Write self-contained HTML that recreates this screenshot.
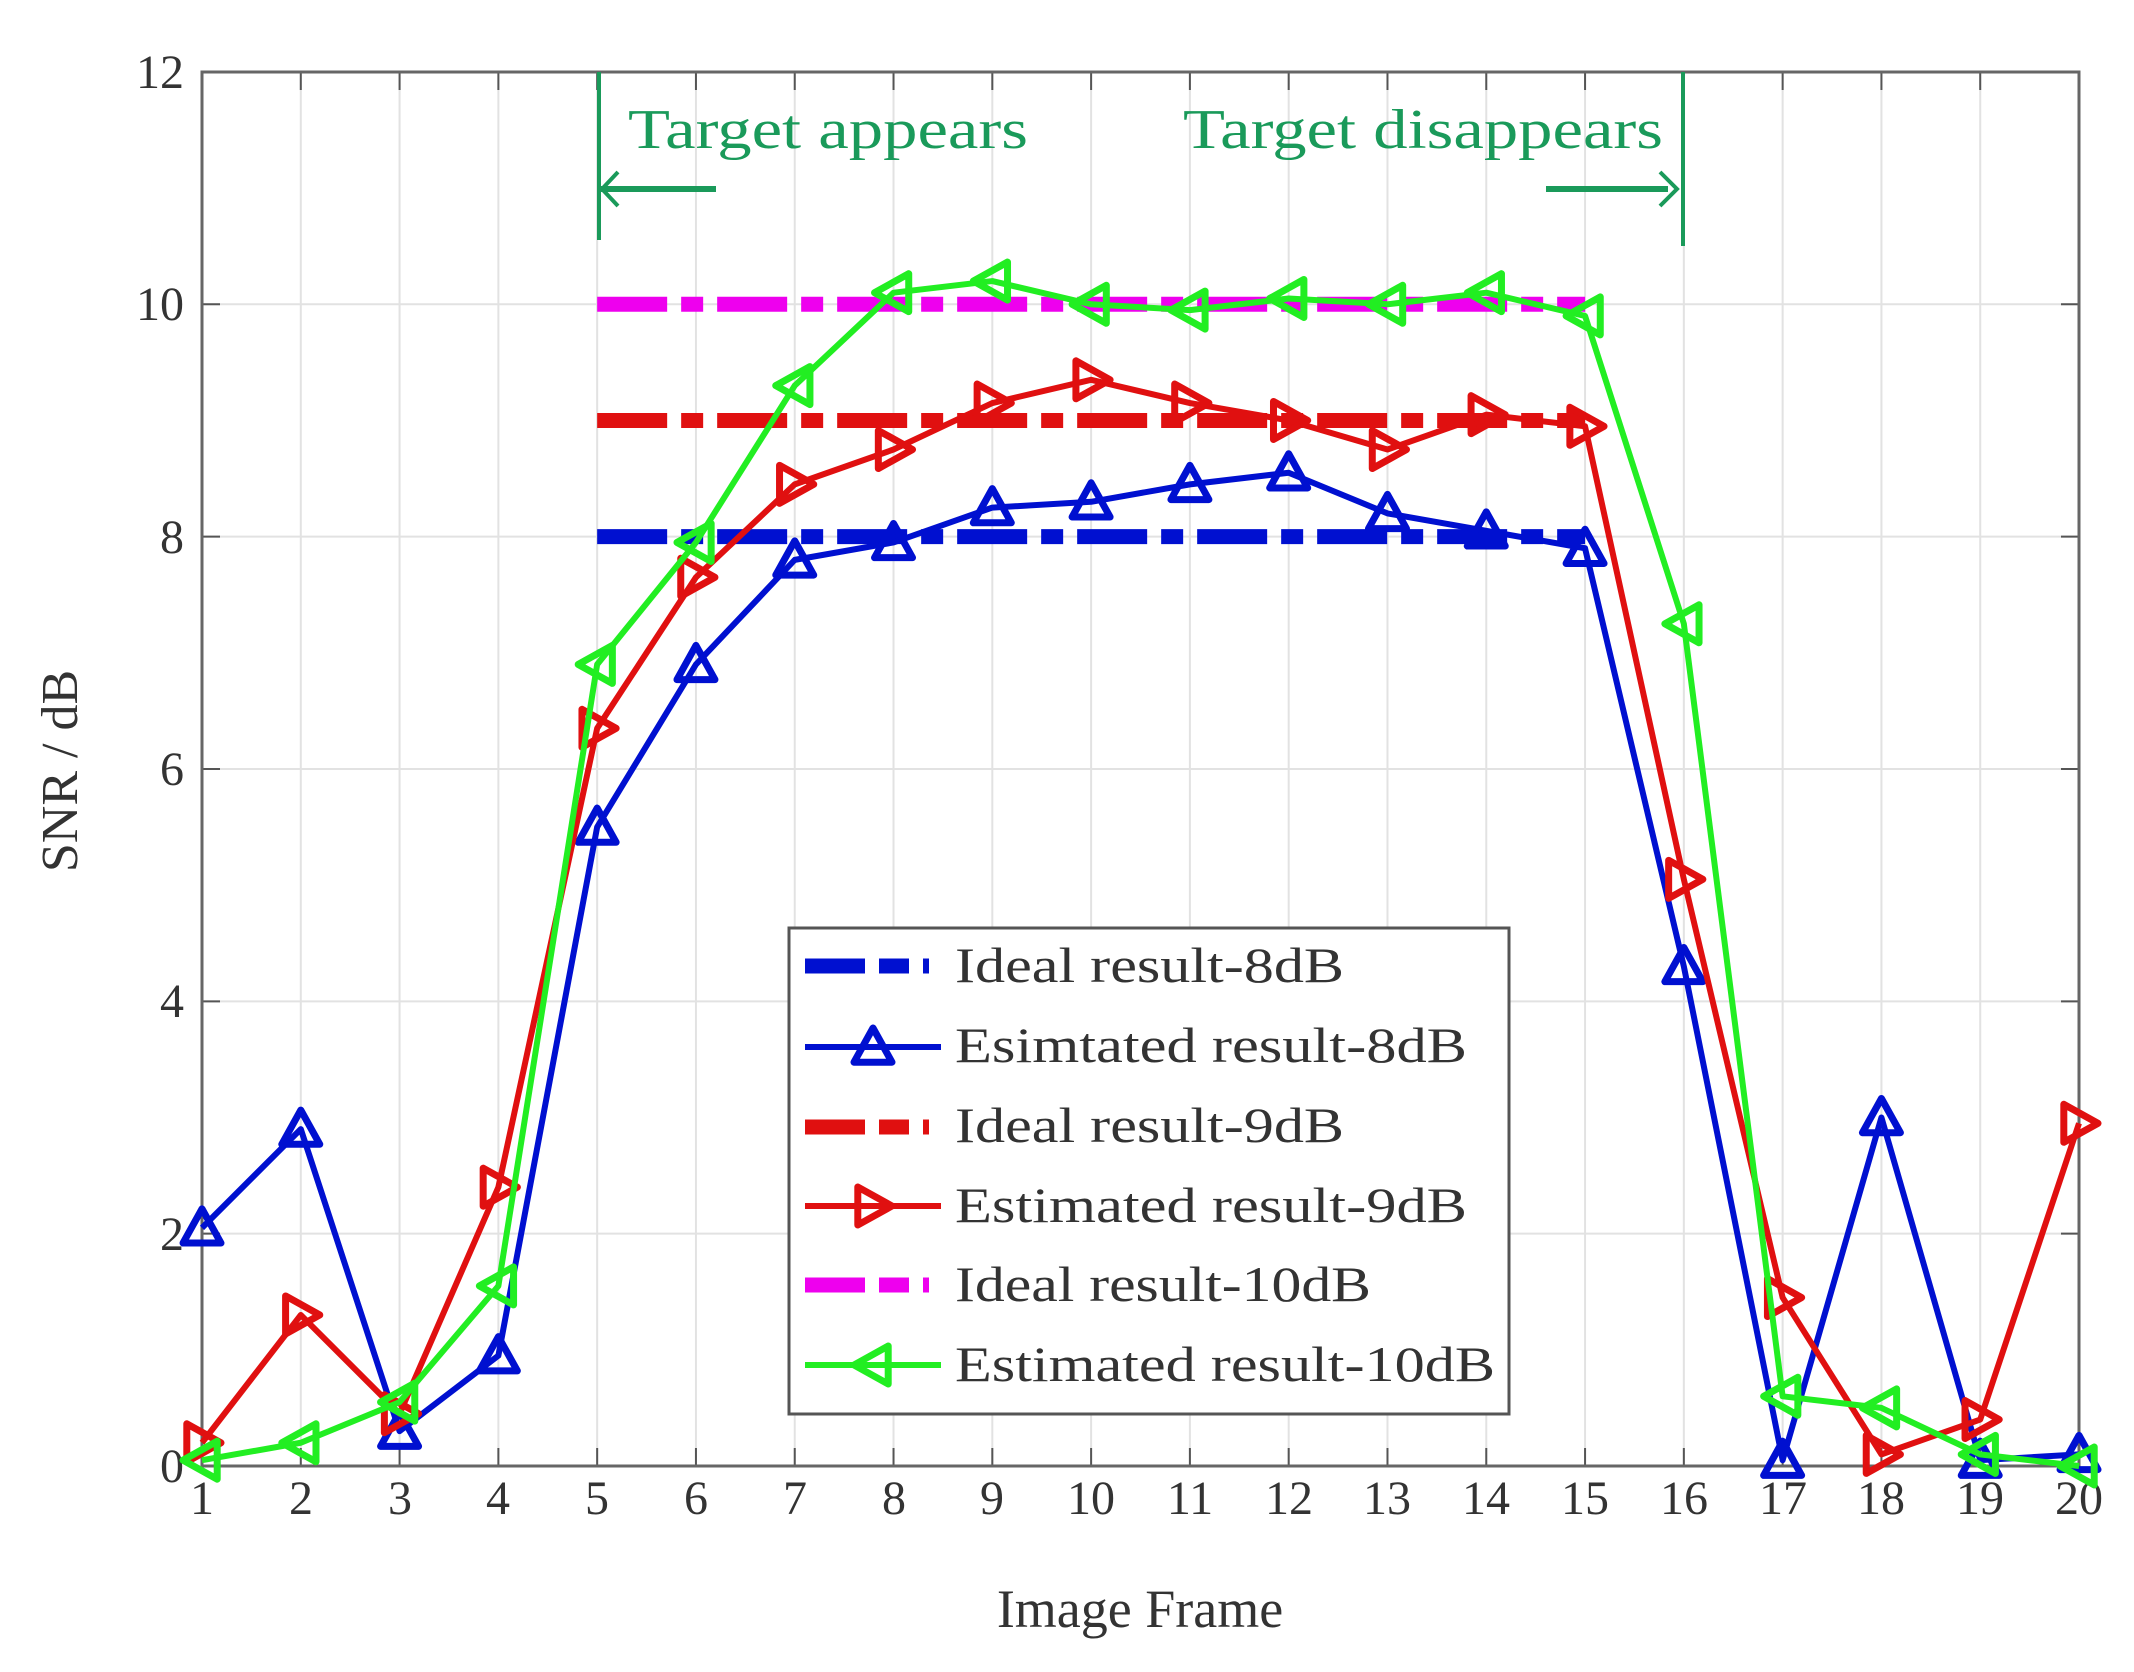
<!DOCTYPE html>
<html><head><meta charset="utf-8"><style>
html,body{margin:0;padding:0;background:#fff}
svg{display:block}
text{font-family:"Liberation Serif",serif;fill:#333}
</style></head><body>
<svg id="s" width="2134" height="1672" xmlns="http://www.w3.org/2000/svg">
<g id="grid" stroke="#e2e2e2" stroke-width="2"></g>
<g id="ticks" stroke="#555" stroke-width="2"></g>
<rect x="202" y="72" width="1877" height="1394" fill="none" stroke="#666" stroke-width="3"/>
<g font-size="48" text-anchor="end">
<text x="184" y="1482">0</text><text x="184" y="1250">2</text><text x="184" y="1017">4</text>
<text x="184" y="785">6</text><text x="184" y="553">8</text><text x="184" y="320">10</text><text x="184" y="88">12</text>
</g>
<g id="xl" font-size="48" text-anchor="middle">
<text x="202" y="1514">1</text><text x="301" y="1514">2</text><text x="400" y="1514">3</text><text x="498" y="1514">4</text>
<text x="597" y="1514">5</text><text x="696" y="1514">6</text><text x="795" y="1514">7</text><text x="894" y="1514">8</text>
<text x="992" y="1514">9</text><text x="1091" y="1514">10</text><text x="1190" y="1514">11</text><text x="1289" y="1514">12</text>
<text x="1387" y="1514">13</text><text x="1486" y="1514">14</text><text x="1585" y="1514">15</text><text x="1684" y="1514">16</text>
<text x="1783" y="1514">17</text><text x="1881" y="1514">18</text><text x="1980" y="1514">19</text><text x="2079" y="1514">20</text>
</g>
<text x="1140" y="1627" font-size="54" text-anchor="middle">Image Frame</text>
<text transform="translate(77,771) rotate(-90)" font-size="52" text-anchor="middle">SNR / dB</text>
<g stroke="#1a9a5a" stroke-width="4" fill="none">
<line x1="599" y1="72" x2="599" y2="240"/>
<line x1="1683" y1="72" x2="1683" y2="246"/>
<line x1="600" y1="189" x2="716" y2="189" stroke-width="6"/>
<polyline points="618,172 602,189 618,206"/>
<line x1="1546" y1="189" x2="1668" y2="189" stroke-width="6"/>
<polyline points="1660,172 1677,189 1660,206"/>
</g>
<text x="628" y="148" font-size="56" style="fill:#1a9a5a" textLength="400" lengthAdjust="spacingAndGlyphs">Target appears</text>
<text x="1183" y="148" font-size="56" style="fill:#1a9a5a" textLength="480" lengthAdjust="spacingAndGlyphs">Target disappears</text>
<g id="data"></g>
<rect x="789" y="928" width="720" height="486" fill="#fff" stroke="#555" stroke-width="3"/>
<g id="leg"></g>
<g font-size="50" style="fill:#222">
<text x="955" y="982" textLength="389" lengthAdjust="spacingAndGlyphs">Ideal result-8dB</text>
<text x="955" y="1062" textLength="512" lengthAdjust="spacingAndGlyphs">Esimtated result-8dB</text>
<text x="955" y="1142" textLength="389" lengthAdjust="spacingAndGlyphs">Ideal result-9dB</text>
<text x="955" y="1222" textLength="512" lengthAdjust="spacingAndGlyphs">Estimated result-9dB</text>
<text x="955" y="1301" textLength="416" lengthAdjust="spacingAndGlyphs">Ideal result-10dB</text>
<text x="955" y="1381" textLength="540" lengthAdjust="spacingAndGlyphs">Estimated result-10dB</text>
</g>
</svg>
<script>
var NS="http://www.w3.org/2000/svg";
function X(i){return 202+(i-1)*98.79}
function Y(v){return 1466-v*116.17}
function el(p,t,a){var e=document.createElementNS(NS,t);for(var k in a)e.setAttribute(k,a[k]);document.getElementById(p).appendChild(e);return e}
for(var i=2;i<=19;i++){el('grid','line',{x1:X(i),y1:72,x2:X(i),y2:1466});el('ticks','line',{x1:X(i),y1:1466,x2:X(i),y2:1448});el('ticks','line',{x1:X(i),y1:72,x2:X(i),y2:90});}
for(var v=2;v<=10;v+=2){el('grid','line',{x1:202,y1:Y(v),x2:2079,y2:Y(v)});el('ticks','line',{x1:202,y1:Y(v),x2:220,y2:Y(v)});el('ticks','line',{x1:2061,y1:Y(v),x2:2079,y2:Y(v)});}
var B=[2.05,2.9,0.3,0.95,5.5,6.9,7.8,7.95,8.25,8.3,8.45,8.55,8.2,8.05,7.9,4.3,0.05,3.0,0.05,0.1];
var R=[0.2,1.3,0.45,2.4,6.35,7.65,8.45,8.75,9.15,9.35,9.15,9.0,8.75,9.05,8.95,5.05,1.45,0.1,0.4,2.95];
var G=[0.05,0.2,0.55,1.55,6.9,7.95,9.3,10.1,10.2,10.0,9.95,10.05,10.0,10.1,9.9,7.25,0.6,0.5,0.1,0.0];
function ideal(v,c){el('data','line',{x1:X(5),y1:Y(v),x2:X(15),y2:Y(v),stroke:c,'stroke-width':15,'stroke-dasharray':'70 14 22 14'});}
function tri(p,x,y,d,c){var s=19,pts;
 if(d=='u')pts=[[x,y-s],[x-s,y+s*0.8],[x+s,y+s*0.8]];
 else if(d=='r')pts=[[x+s,y],[x-s*0.8,y-s],[x-s*0.8,y+s]];
 else pts=[[x-s,y],[x+s*0.8,y-s],[x+s*0.8,y+s]];
 el(p,'polygon',{points:pts.map(function(q){return q.join(',')}).join(' '),fill:'none',stroke:c,'stroke-width':7,'stroke-linejoin':'round'});}
function est(D,c,d){el('data','polyline',{points:D.map(function(v,i){return X(i+1)+','+Y(v)}).join(' '),fill:'none',stroke:c,'stroke-width':6,'stroke-linejoin':'round'});
 D.forEach(function(v,i){tri('data',X(i+1),Y(v),d,c)});}
ideal(10,'#ee00ee');ideal(9,'#e01010');ideal(8,'#0010d0');
est(B,'#0010d0','u');est(R,'#e01010','r');est(G,'#22ee22','l');
var ly=[966,1047,1127,1206,1285,1365],cs=['#0010d0','#0010d0','#e01010','#e01010','#ee00ee','#22ee22'];
ly.forEach(function(y,k){
 if(k%2==0){el('leg','line',{x1:805,y1:y,x2:941,y2:y,stroke:cs[k],'stroke-width':15,'stroke-dasharray':'60 14 30 14 6'});}
 else{el('leg','line',{x1:805,y1:y,x2:941,y2:y,stroke:cs[k],'stroke-width':6});tri('leg',873,y,k==1?'u':k==3?'r':'l',cs[k]);}
});
</script>
</body></html>
